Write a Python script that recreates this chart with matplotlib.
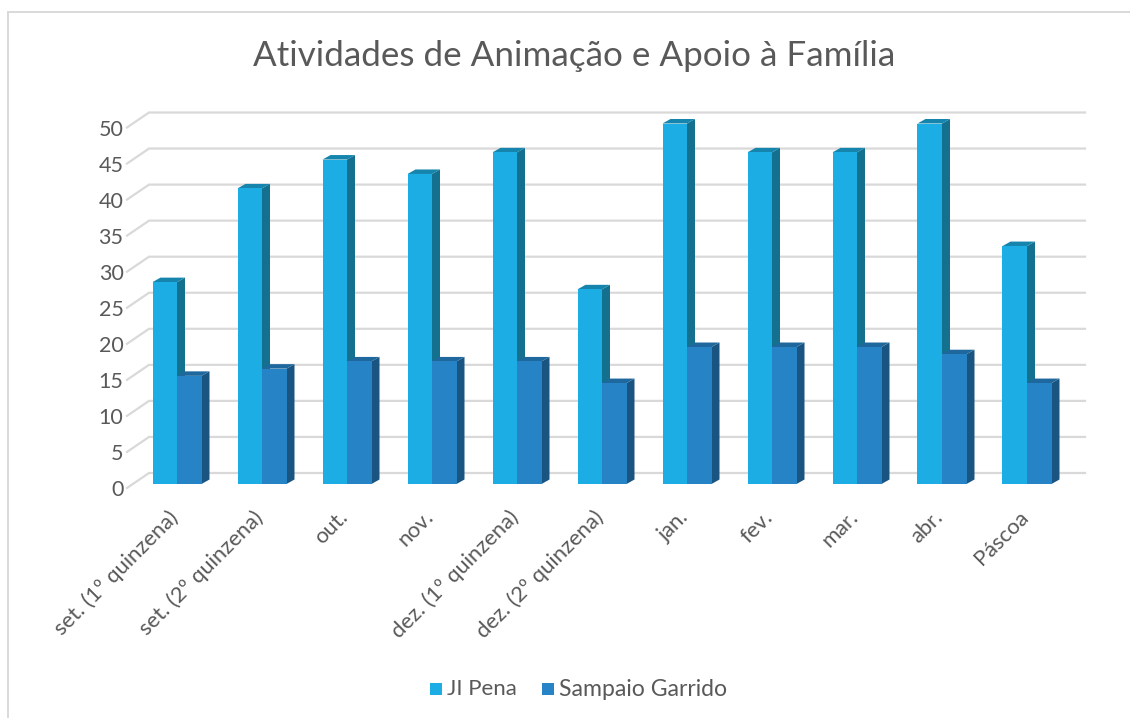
import matplotlib
matplotlib.use('Agg')
from matplotlib import pyplot as plt
from matplotlib.patches import Polygon, Rectangle
from matplotlib.lines import Line2D

plt.rcParams['font.family'] = ['Lato', 'DejaVu Sans']

W, H = 1130, 718

categories = ['set. (1º quinzena)', 'set. (2º quinzena)', 'out.', 'nov.', 'dez. (1º quinzena)',
              'dez. (2º quinzena)', 'jan.', 'fev.', 'mar.', 'abr.', 'Páscoa']
ji_pena = [28, 41, 45, 43, 46, 27, 50, 46, 46, 50, 33]
sampaio = [15, 16, 17, 17, 17, 14, 19, 19, 19, 18, 14]
y_ticks = [0, 5, 10, 15, 20, 25, 30, 35, 40, 45, 50]

TEXT = '#595959'
GRID = '#d9d9d9'
C1, C1_SIDE, C1_TOP = '#1cade4', '#14708f', '#1585ad'
C2, C2_SIDE, C2_TOP = '#2683c6', '#1a5480', '#1f689e'

fig = plt.figure(figsize=(W / 100, H / 100), dpi=100)

# axes in front plane: x = category index, y = value
left, right = 134.5, 1069.5
y0, y50 = 484, 123.5
ax = fig.add_axes([left / W, 1 - y0 / H, (right - left) / W, (y0 - y50) / H])
ax.set_xlim(-0.5, 10.5)
ax.set_ylim(0, 50)
ax.axis('off')

px_x = 85.0
px_y = (y0 - y50) / 50
bar_w = 24.5 / px_x
dx = 8 / px_x
dy = 4.5 / px_y

# floor and wall lines
for v in y_ticks:
    xs = [-0.5 - 7.5 / px_x, -0.5 + 14.5 / px_x, 10.5 + 15.5 / px_x]
    ys = [v - 4 / px_y, v + 11 / px_y, v + 11 / px_y]
    ax.plot(xs, ys, color=GRID, lw=1.6, clip_on=False, zorder=1, solid_joinstyle='miter')


def draw_bar(x, val, face, side, top):
    ax.add_patch(Polygon([(x + bar_w, 0), (x + bar_w + dx, dy), (x + bar_w + dx, val + dy), (x + bar_w, val)],
                         closed=True, fc=side, ec='none', clip_on=False, zorder=3))
    ax.add_patch(Polygon([(x, val), (x + dx, val + dy), (x + bar_w + dx, val + dy), (x + bar_w, val)],
                         closed=True, fc=top, ec='none', clip_on=False, zorder=3))
    ax.bar(x, val, width=bar_w, align='edge', color=face, zorder=4)


for i in range(len(categories)):
    # the taller front bars sit left, the second series is drawn over their side
    draw_bar(i - bar_w, ji_pena[i], C1, C1_SIDE, C1_TOP)
    draw_bar(i, sampaio[i], C2, C2_SIDE, C2_TOP)

for v in y_ticks:
    ax.text(-0.5 - 11 / px_x, v - 6 / px_y, str(v), ha='right', va='center', fontsize=15.5, color=TEXT,
            clip_on=False)

for i, lab in enumerate(categories):
    ax.annotate(lab, xy=(i, 0), xytext=(-6.5, -16.5), textcoords='offset points', rotation=45,
                rotation_mode='anchor', ha='right', va='top', fontsize=15.8, color=TEXT, annotation_clip=False)

fig.text(574 / W, 1 - 56 / H, 'Atividades de Animação e Apoio à Família', ha='center', va='center',
         fontsize=25.2, color=TEXT)

# legend
fig.add_artist(Rectangle((430 / W, 1 - 695 / H), 12 / W, 12 / H, transform=fig.transFigure, fc=C1, ec='none'))
fig.add_artist(Rectangle((542 / W, 1 - 695 / H), 12 / W, 12 / H, transform=fig.transFigure, fc=C2, ec='none'))
fig.text(447 / W, 1 - 689 / H, 'JI Pena', ha='left', va='center', fontsize=16, color=TEXT)
fig.text(559 / W, 1 - 689 / H, 'Sampaio Garrido', ha='left', va='center', fontsize=16.6, color=TEXT)

# chart frame, only left and top are inside the crop
for xs, ys in [([8, 8], [12, 718]), ([8, 1130], [12, 12])]:
    fig.add_artist(Line2D([x / W for x in xs], [1 - y / H for y in ys], color=GRID, lw=1.4))

fig.savefig('out.png', dpi=100)
